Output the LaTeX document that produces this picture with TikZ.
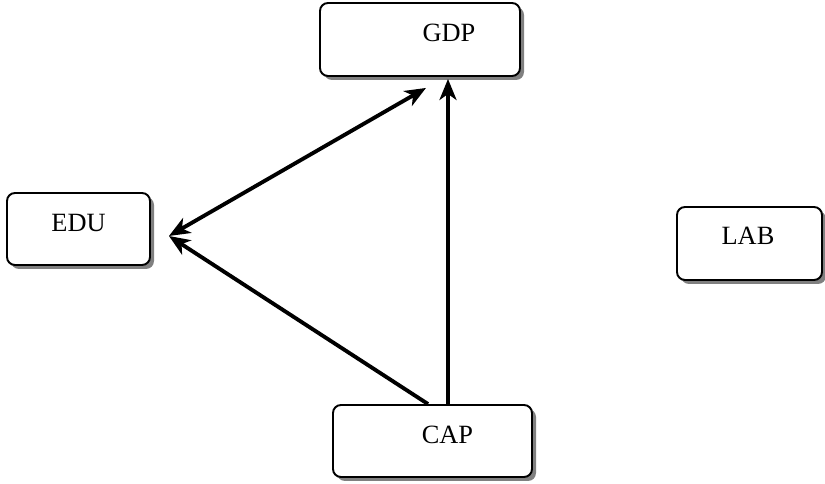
\documentclass[tikz,border=0pt]{standalone}
\usepackage{fontspec}
\setmainfont{Liberation Serif}
\usetikzlibrary{positioning,calc,shadows,arrows.meta}
\tikzset{
	headtip/.tip={Stealth[length=0.42cm,width=0.34cm,inset=0.12cm]}
}
\begin{document}
\begin{tikzpicture}[
	box/.style={draw,line width=1.1pt,rounded corners=0.16cm,fill=white,
		drop shadow={shadow xshift=0.08cm,shadow yshift=-0.08cm,fill=black!50,opacity=1}},
	txt/.style={font=\fontsize{15}{18}\selectfont},
	link/.style={line width=2.2pt,-headtip}]
	\useasboundingbox (0,0) rectangle (16.5,9.68);

	\node[box,minimum width=4cm,minimum height=1.46cm,label={[txt,xshift=0.58cm,yshift=0.14cm]center:GDP}] (gdp) at (8.4,8.89) {};
	\node[box,minimum width=2.86cm,minimum height=1.44cm,label={[txt,yshift=0.12cm]center:EDU}] (edu) at (1.57,5.1) {};
	\node[box,minimum width=2.9cm,minimum height=1.46cm,label={[txt,xshift=-0.03cm,yshift=0.15cm]center:LAB}] (lab) at (14.99,4.81) {};
	\node[box,minimum width=3.98cm,minimum height=1.44cm,label={[txt,xshift=0.3cm,yshift=0.13cm]center:CAP}] (cap) at (8.65,0.86) {};

	\coordinate (edutip) at ($(edu.east)+(0.36,-0.14)$);
	\coordinate (gdptip) at ($(gdp.south)+(0.12,-0.22)$);
	\coordinate (capleft) at ($(cap.north)+(-0.09,0)$);
	\coordinate (capright) at ($(cap.north)+(0.31,0)$);

	\draw[link,headtip-headtip] (gdptip) -- (edutip);
	\draw[link] (capleft) -- (edutip);
	\draw[link] (capright) -- ($(capright |- gdp.south)+(0,-0.04)$);
\end{tikzpicture}
\end{document}
